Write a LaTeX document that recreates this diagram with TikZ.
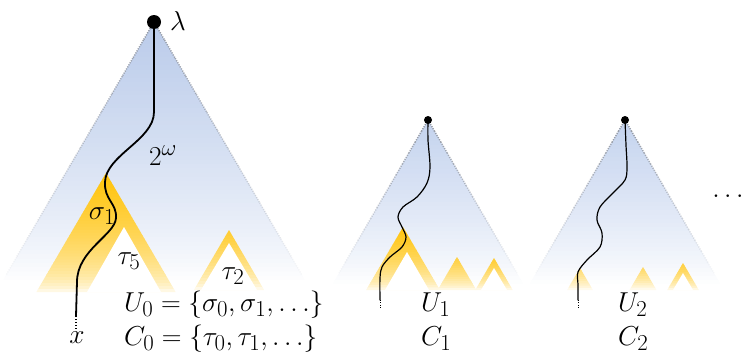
\documentclass[tikz,border=0pt]{standalone}
\usetikzlibrary{calc}
\definecolor{skyb}{RGB}{186,203,234}
\definecolor{skys}{RGB}{196,211,238}
\definecolor{gold}{RGB}{255,195,10}
\definecolor{edgegray}{RGB}{145,150,160}
\tikzset{
 edgeline/.style={edgegray, line width=1.5pt, dash pattern=on 1.1pt off 1.3pt},
 rootdot/.style={circle, fill=black, inner sep=0pt},
 pathline/.style={black, line width=1.8pt, line cap=round},
 thinpath/.style={black, line width=1.2pt, line cap=round},
 tailline/.style={black, line width=1.4pt, dash pattern=on 1pt off 2pt},
 thintail/.style={black, line width=1pt, dash pattern=on 0.8pt off 1.6pt},
 lbl/.style={inner sep=0pt, font=\fontsize{24.88}{30}\selectfont},
}
\newcommand\bt[1]{\scalebox{1.1}{#1}}
% gradient cone made of solid strips: #1 apex x, #2 apex y, #3 base y, #4 slope, #5 colour, #6 exponent, #7 strips
\newcommand\gradtri[7]{%
  \pgfmathsetmacro\gH{#3-#2}%
  \foreach \i in {1,...,#7}{%
    \pgfmathsetmacro\ya{#2+\gH*(\i-1)/#7}%
    \pgfmathsetmacro\yb{min(#2+\gH*\i/#7+0.6,#3)}%
    \pgfmathsetmacro\wa{#4*(\ya-#2)}%
    \pgfmathsetmacro\wb{#4*(\yb-#2)}%
    \pgfmathsetmacro\pc{100*(1-(\i-0.5)/#7)^#6}%
    \fill[#5!\pc!white] (#1-\wa,\ya) -- (#1+\wa,\ya) -- (#1+\wb,\yb) -- (#1-\wb,\yb) -- cycle;%
  }%
}
\newcommand\fadeedge[2]{%
  \foreach \i in {0,...,13}{%
    \pgfmathsetmacro\op{0.95*(1-\i/14)}%
    \draw[edgeline, opacity=\op] ($(#1)!{\i/14}!(#2)$) -- ($(#1)!{(\i+1)/14}!(#2)$);%
  }%
}
\begin{document}
\begin{tikzpicture}[x=1pt,y=-1pt]
\useasboundingbox (0,0) rectangle (743,356);
% apexes and edge ends
\coordinate (a1) at (154,22);
\coordinate (a2) at (428,120);
\coordinate (a3) at (625,120);
\coordinate (e1l) at (6,275);
\coordinate (e1r) at (302,275);
\coordinate (e2l) at (339,273);
\coordinate (e2r) at (517,273);
\coordinate (e3l) at (536,273);
\coordinate (e3r) at (714,273);
% blue cones
\gradtri{154}{22}{280}{0.585}{skyb}{0.75}{60}
\gradtri{428}{120}{284}{0.582}{skys}{0.8}{40}
\gradtri{625}{120}{284}{0.582}{skys}{0.8}{40}
\fadeedge{a1}{e1l}
\fadeedge{a1}{e1r}
\fadeedge{a2}{e2l}
\fadeedge{a2}{e2r}
\fadeedge{a3}{e3l}
\fadeedge{a3}{e3r}
% yellow cones, tree 1
\gradtri{106}{173}{292}{0.585}{gold}{0.5}{40}
\fill[white] (124,227) -- (87,292) -- (161,292) -- cycle;
\gradtri{229}{230}{290}{0.585}{gold!85!white}{0.6}{20}
\fill[white] (229,243) -- (201,290) -- (257,290) -- cycle;
% yellow cones, tree 2
\gradtri{403}{227}{290}{0.585}{gold}{0.55}{25}
\fill[white] (407,252) -- (385,290) -- (429,290) -- cycle;
\gradtri{457}{257}{290}{0.585}{gold!80!white}{0.6}{15}
\gradtri{494}{258}{290}{0.585}{gold!85!white}{0.6}{15}
\fill[white] (494,268) -- (481,290) -- (507,290) -- cycle;
% yellow cones, tree 3
\gradtri{580}{268}{290}{0.585}{gold!60!white}{0.7}{10}
\gradtri{643}{267}{290}{0.585}{gold!65!white}{0.7}{10}
\gradtri{683}{263}{290}{0.585}{gold!80!white}{0.6}{12}
\fill[white] (683,273) -- (673,290) -- (693,290) -- cycle;
% roots
\node[rootdot, minimum size=14pt] (r1) at (a1) {};
\node[rootdot, minimum size=8pt] (r2) at (a2) {};
\node[rootdot, minimum size=8pt] (r3) at (a3) {};
% paths
\coordinate (t1a) at (76,316);
\coordinate (t1b) at (76,331);
\coordinate (t2a) at (380,300);
\coordinate (t2b) at (380,309);
\coordinate (t3a) at (578,300);
\coordinate (t3b) at (578,309);
\draw[pathline] (r1.center) -- (154,112) .. controls (154,140) and (106,155) .. (105,182)
  .. controls (104,200) and (117,203) .. (116,218)
  .. controls (115,235) and (77,250) .. (77,282) -- (t1a);
\draw[tailline] (t1a) -- (t1b);
\draw[thinpath] plot[smooth, tension=0.55] coordinates {(r2.center) (428,140) (430,167) (427,183) (417,197) (403,207) (398,217) (402,227) (406,237) (402,247) (390,257) (382,267) (380,278) (t2a)};
\draw[thintail] (t2a) -- (t2b);
\draw[thinpath] plot[smooth, tension=0.55] coordinates {(r3.center) (626,145) (627,167) (625,180) (613,193) (600,207) (597,220) (602,233) (600,247) (587,260) (578,272) (578,285) (t3a)};
\draw[thintail] (t3a) -- (t3b);
% labels
\node[lbl] (lam) at (178,21) {\bt{$\lambda$}};
\node[lbl] (two) at (163,156) {\bt{$2^\omega$}};
\node[lbl] (sig) at (102,216) {\bt{$\sigma_1$}};
\node[lbl] (tau5) at (129,261) {\bt{$\tau_5$}};
\node[lbl] (tau2) at (233,276) {\bt{$\tau_2$}};
\node[lbl, anchor=base] (xl) at (77,343) {\bt{$x$}};
\node[lbl, anchor=base west] (u0) at (124,311) {\bt{$U_0=\{\sigma_0,\sigma_1,\dots\}$}};
\node[lbl, anchor=base west] (c0) at (124,345) {\bt{$C_0=\{\tau_0,\tau_1,\dots\}$}};
\node[lbl, anchor=base west] (u1) at (421,311) {\bt{$U_1$}};
\node[lbl, anchor=base west] (c1) at (421,345) {\bt{$C_1$}};
\node[lbl, anchor=base west] (u2) at (618,311) {\bt{$U_2$}};
\node[lbl, anchor=base west] (c2) at (618,345) {\bt{$C_2$}};
\node[lbl] (more) at (728,196) {\bt{$\dots$}};
\end{tikzpicture}
\end{document}
